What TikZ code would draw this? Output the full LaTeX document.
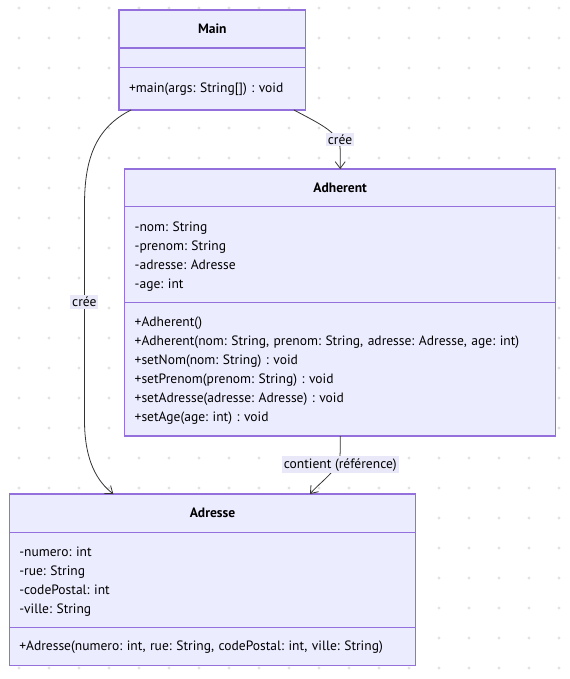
\documentclass[tikz,border=0pt]{standalone}
\usepackage{fontspec}
\setmainfont{PT Sans}
\frenchspacing
\usetikzlibrary{positioning}
\usetikzlibrary{calc}
\usetikzlibrary{arrows.meta}
\definecolor{umlfill}{HTML}{ECECFF}
\definecolor{umlborder}{HTML}{9370DB}
\definecolor{edgecol}{HTML}{333333}
\definecolor{labfill}{HTML}{E8E8F8}
\definecolor{dotcol}{HTML}{E2E2E2}
\tikzset{
  umlfont/.style={font=\fontsize{10.15pt}{14.25pt}\selectfont},
  cls/.style={draw=umlborder, fill=umlfill, line width=0.9pt, umlfont,
    inner xsep=7.5pt, inner ysep=0pt, outer sep=0pt, align=left},
  clstitle/.style={cls, align=center, anchor=north west,
    font=\fontsize{10.15pt}{14.25pt}\selectfont\bfseries},
  assoc/.style={draw=edgecol, line width=0.6pt,
    -{Straight Barb[length=5pt,width=7.5pt]}},
  lab/.style={fill=labfill, inner sep=1.5pt, umlfont},
}

\begin{document}
\begin{tikzpicture}[x=0.75pt, y=-0.75pt]
  \useasboundingbox (0,0) rectangle (570,679);

  % Background grid
  \foreach \i in {0,...,18} {
    \foreach \j in {0,...,22} {
      \fill[dotcol] (19+30*\i, 8+30*\j) circle (1.3pt);
    }
  }

  % Define nodes
  \node[clstitle, text width=125pt, minimum height=28.5pt] (maint) at (119,10) {Main};
  \node[cls, text width=125pt, minimum height=14.5pt, below=0pt of maint] (maina) {};
  \node[cls, text width=125pt, minimum height=32pt, below=0pt of maina] (mainm)
    {\strut+main(args: String[]) : void};

  \node[clstitle, text width=308.25pt, minimum height=28.3pt] (adht) at (124.7,169) {Adherent};
  \node[cls, text width=308.25pt, minimum height=71.7pt, below=0pt of adht] (adha)
    {\strut-nom: String\\-prenom: String\\-adresse: Adresse\\-age: int};
  \node[cls, text width=308.25pt, minimum height=100.3pt, below=0pt of adha] (adhm)
    {\strut+Adherent()\\+Adherent(nom: String, prenom: String, adresse: Adresse, age: int)\\
     +setNom(nom: String) : void\\+setPrenom(prenom: String) : void\\
     +setAdresse(adresse: Adresse) : void\\+setAge(age: int) : void};

  \node[clstitle, text width=289.8pt, minimum height=28.7pt] (adrt) at (9.3,494) {Adresse};
  \node[cls, text width=289.8pt, minimum height=71.55pt, below=0pt of adrt] (adra)
    {\strut-numero: int\\-rue: String\\-codePostal: int\\-ville: String};
  \node[cls, text width=289.8pt, minimum height=28.5pt, below=0pt of adra] (adrm)
    {\strut+Adresse(numero: int, rue: String, codePostal: int, ville: String)};

  % Connect nodes
  \draw[assoc] ($(mainm.south east)+(-11.7,0)$) .. controls (322,125) and (340.2,133)
    .. (340.2,150) -- (adht.north);
  \draw[assoc] ($(mainm.south west)+(12,0)$) .. controls (95,128) and (84.5,160)
    .. (84.5,205) -- (84.5,420) .. controls (84.5,462) and (98,482)
    .. ($(adrt.north west)+(104,0)$);
  \draw[assoc] (adhm.south) -- (340.2,452) .. controls (340.2,470) and (322,480)
    .. ($(adrt.north)+(97.5,0)$);

  % Labels
  \node[lab] (crea1) at (340,139.5) {crée};
  \node[lab] (crea2) at (84.3,302) {crée};
  \node[lab] (cont) at (340.3,464.7) {contient (référence)};

\end{tikzpicture}
\end{document}
